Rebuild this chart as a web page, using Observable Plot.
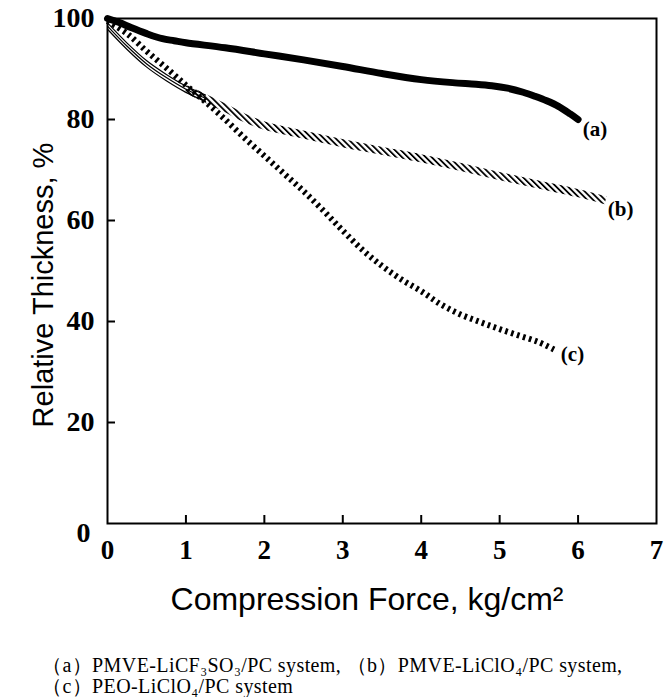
<!DOCTYPE html>
<html>
<head>
<meta charset="utf-8">
<script src="https://cdn.jsdelivr.net/npm/d3@7"></script>
<script src="https://cdn.jsdelivr.net/npm/@observablehq/plot@0.6"></script>
<style>
  body { margin: 0; background: #fff; }
  #caption { font-family: "Liberation Serif", serif; font-size: 20px; line-height: 21px; letter-spacing: 0.4px; padding-left: 42px; margin-top: 15px; color: #000; white-space: nowrap; }
</style>
</head>
<body>
<div id="chart"></div>
<div id="caption"></div>
<script>
// Curve (a): PMVE-LiCF3SO3/PC
const xA = [0, 0.15, 0.3, 0.5, 0.7, 0.85, 1.0, 1.5, 2.0, 2.5, 3.0, 3.5, 4.0, 4.4, 4.7, 4.9, 5.1, 5.3, 5.45, 5.6, 5.75, 5.9, 6.0];
const yA = [100, 99.2, 98.2, 97.0, 96.0, 95.6, 95.2, 94.2, 93.0, 91.8, 90.5, 89.1, 87.9, 87.3, 87.0, 86.7, 86.2, 85.4, 84.6, 83.7, 82.6, 81.1, 80.0];
// Curve (b): PMVE-LiClO4/PC
const xB = [0, 0.25, 0.5, 0.75, 1.0, 1.25, 1.5, 1.75, 2.0, 2.5, 3.0, 3.5, 4.0, 4.5, 5.0, 5.5, 6.0, 6.35];
const yB = [98.5, 94.5, 91.0, 88.3, 86.0, 84.2, 82.3, 80.3, 78.8, 77.0, 75.3, 73.8, 72.3, 70.6, 68.8, 67.1, 65.4, 64.0];
// Curve (c): PEO-LiClO4/PC
const xC = [0, 0.25, 0.5, 0.75, 1.0, 1.25, 1.5, 1.75, 2.0, 2.25, 2.5, 2.75, 3.0, 3.25, 3.5, 3.75, 4.0, 4.25, 4.5, 4.75, 5.0, 5.25, 5.5, 5.7];
const yC = [99.5, 97.0, 93.5, 90.2, 86.8, 83.5, 80.0, 76.3, 72.8, 69.3, 65.8, 62.0, 58.0, 54.2, 51.0, 48.3, 46.0, 43.4, 41.4, 39.9, 38.5, 37.2, 35.9, 34.4];

const curveLabels = ["(a)", "(b)", "(c)"];
const labelX = [6.06, 6.38, 5.78];
const labelY = [78.0, 62.3, 33.5];

const xTickValues = [0, 1, 2, 3, 4, 5, 6, 7];
const xTickMarks = [1, 2, 3, 4, 5, 6];
const yTickValues = [20, 40, 60, 80, 100];
const yTickMarks = [20, 40, 60, 80];
const yZero = [0];

const xTitle = "Compression Force, kg/cm²";
const yTitle = "Relative Thickness, %";
const captionLines = [
  "（a）PMVE-LiCF₃SO₃/PC system, （b）PMVE-LiClO₄/PC system,",
  "（c）PEO-LiClO₄/PC system"
];

const toPts = (xs, ys) => xs.map((x, i) => ({x, y: ys[i]}));
const A = toPts(xA, yA), B = toPts(xB, yB), C = toPts(xC, yC);
const Bstart = B.filter(d => d.x <= 1.25);
const Bhatch = B.filter(d => d.x >= 1.0);
const labels = curveLabels.map((t, i) => ({t, x: labelX[i], y: labelY[i]}));

const tickFontY = {fontFamily: "Liberation Serif", fontWeight: "bold", fontSize: 28};
const tickFontX = {fontFamily: "Liberation Serif", fontWeight: "bold", fontSize: 27};

const chart = Plot.plot({
  width: 668,
  height: 640,
  marginLeft: 107,
  marginRight: 12,
  marginTop: 18,
  marginBottom: 117,
  x: {domain: [0, 7]},
  y: {domain: [0, 100]},
  style: {background: "white", color: "black"},
  marks: [
    Plot.frame({stroke: "black", strokeWidth: 2}),
    Plot.axisX(xTickMarks, {tickSize: -8, strokeWidth: 2, text: null, label: null}),
    Plot.axisX(xTickValues, {tickSize: 0, tickPadding: 16, ...tickFontX, label: null}),
    Plot.axisY(yTickMarks, {tickSize: -8, strokeWidth: 2, text: null, label: null}),
    Plot.axisY(yTickValues, {tickSize: 0, tickPadding: 13, ...tickFontY, label: null}),
    Plot.axisY(yZero, {tickSize: 0, tickPadding: 13, dy: 10, dx: -4, ...tickFontY, label: null}),
    Plot.line(A, {x: "x", y: "y", stroke: "black", strokeWidth: 7, curve: "catmull-rom", strokeLinecap: "round"}),
    Plot.line(Bstart, {x: "x", y: "y", stroke: "black", strokeWidth: 1.2, curve: "catmull-rom", dy: -3.2}),
    Plot.line(Bstart, {x: "x", y: "y", stroke: "black", strokeWidth: 1.2, curve: "catmull-rom"}),
    Plot.line(Bstart, {x: "x", y: "y", stroke: "black", strokeWidth: 1.2, curve: "catmull-rom", dy: 3.2}),
    Plot.line(Bhatch, {x: "x", y: "y", stroke: "url(#hatchB)", strokeWidth: 8, curve: "catmull-rom", strokeLinecap: "butt"}),
    Plot.line(C, {x: "x", y: "y", stroke: "black", strokeWidth: 6, curve: "catmull-rom", strokeDasharray: "2.6,3.6", strokeLinecap: "butt"}),
    Plot.text(labels, {x: "x", y: "y", text: "t", textAnchor: "start", fontFamily: "Liberation Serif", fontWeight: "bold", fontSize: 21}),
    Plot.text([xTitle], {frameAnchor: "bottom", dy: 86, dx: -15, fontFamily: "Liberation Sans", fontSize: 32}),
    Plot.text([yTitle], {frameAnchor: "left", textAnchor: "middle", dx: -64, dy: 14, rotate: -90, fontFamily: "Liberation Sans", fontSize: 29})
  ]
});

// hatch pattern used as the stroke of curve (b)
const svg = d3.select(chart);
const defs = svg.insert("defs", ":first-child");
const pat = defs.append("pattern")
  .attr("id", "hatchB")
  .attr("patternUnits", "userSpaceOnUse")
  .attr("width", 4.2)
  .attr("height", 4.2)
  .attr("patternTransform", "rotate(-45)");
pat.append("rect").attr("x", 0).attr("y", 0).attr("width", 1.8).attr("height", 4.2).attr("fill", "black");

document.getElementById("chart").appendChild(chart);
document.getElementById("caption").innerHTML = captionLines.map(s => `<div>${s}</div>`).join("");
</script>
</body>
</html>
